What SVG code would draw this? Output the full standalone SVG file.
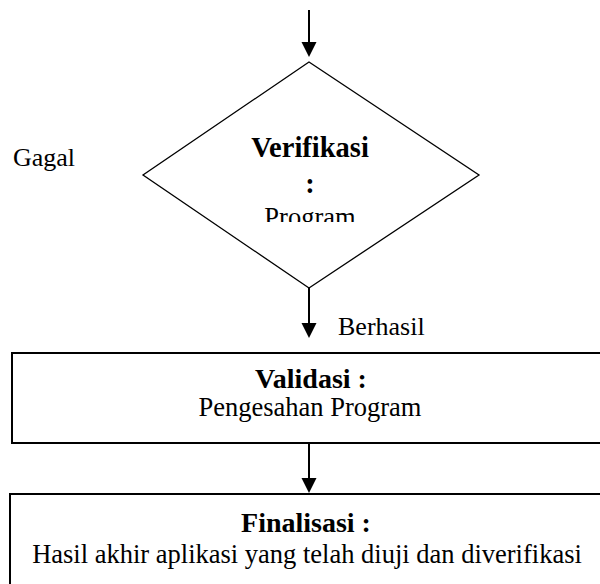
<svg xmlns="http://www.w3.org/2000/svg" width="600" height="584" viewBox="0 0 600 584">
<defs>
<clipPath id="dc"><rect x="140" y="60" width="340" height="162"/></clipPath>
</defs>
<g id="connectors" fill="#000" stroke="none">
<line x1="309" y1="10" x2="309" y2="44" stroke="#000" stroke-width="2"/>
<path d="M301.5,42 L316.5,42 L309,57 z"/>
<line x1="309" y1="288" x2="309" y2="325" stroke="#000" stroke-width="2"/>
<path d="M301.5,323 L316.5,323 L309,338 z"/>
<line x1="309" y1="443" x2="309" y2="480" stroke="#000" stroke-width="2"/>
<path d="M301.5,478 L316.5,478 L309,493 z"/>
<text x="13" y="166" style="font-family:'Liberation Serif',serif;font-size:26px">Gagal</text>
<text x="338" y="335" style="font-family:'Liberation Serif',serif;font-size:26px">Berhasil</text>
</g>
<g id="verifikasi">
<polygon points="309,62 479,175 309,288 143,175" fill="#fff" stroke="#000" stroke-width="1.3"/>
<text x="310" y="157" text-anchor="middle" style="font-family:'Liberation Serif',serif;font-size:28.5px;font-weight:bold">Verifikasi</text>
<text x="310" y="193" text-anchor="middle" style="font-family:'Liberation Serif',serif;font-size:28.5px;font-weight:bold">:</text>
<text x="310" y="226" text-anchor="middle" clip-path="url(#dc)" style="font-family:'Liberation Serif',serif;font-size:26.5px">Program</text>
</g>
<g id="validasi">
<rect x="12" y="353" width="600" height="90" fill="#fff" stroke="#000" stroke-width="2"/>
<text x="311" y="388" text-anchor="middle" style="font-family:'Liberation Serif',serif;font-size:28px;font-weight:bold">Validasi :</text>
<text x="310" y="416" text-anchor="middle" style="font-family:'Liberation Serif',serif;font-size:26.5px">Pengesahan Program</text>
</g>
<g id="finalisasi">
<rect x="10" y="494" width="600" height="100" fill="#fff" stroke="#000" stroke-width="2"/>
<text x="306" y="532" text-anchor="middle" style="font-family:'Liberation Serif',serif;font-size:28px;font-weight:bold">Finalisasi :</text>
<text x="307" y="563" text-anchor="middle" style="font-family:'Liberation Serif',serif;font-size:26.5px">Hasil akhir aplikasi yang telah diuji dan diverifikasi</text>
</g>
</svg>
